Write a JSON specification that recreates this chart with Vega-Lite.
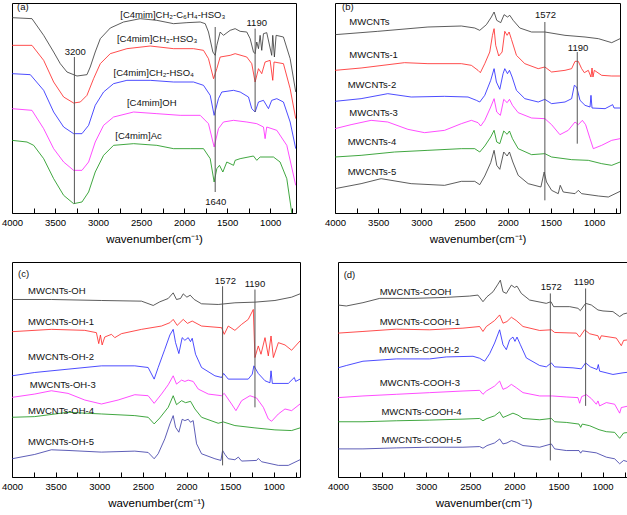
{
"$schema": "https://vega.github.io/schema/vega-lite/v6.json",
"padding": {"left": 0, "top": 1, "right": 0, "bottom": 0},
"config": {
  "view": {"stroke": "#000", "strokeWidth": 1},
  "font": "Liberation Sans",
  "axisX": {"domain": false, "grid": false, "tickColor": "#000", "tickWidth": 1, "tickSize": -5, "labelFontSize": 9.5, "labelColor": "#000", "labelPadding": 9, "titleFontSize": 11.5, "titleFontWeight": "normal", "titleColor": "#000", "titlePadding": 7},
  "text": {"font": "Liberation Sans", "fontSize": 9.5, "color": "#111"}
},
"resolve": {"scale": {"color": "independent"}},
"datasets": {
  "a": [
    {"s":"[C4mim]CH2-C6H4-HSO3","x":4000,"y":586},{"s":"[C4mim]CH2-C6H4-HSO3","x":3768,"y":583},{"s":"[C4mim]CH2-C6H4-HSO3","x":3632,"y":533},{"s":"[C4mim]CH2-C6H4-HSO3","x":3516,"y":483},{"s":"[C4mim]CH2-C6H4-HSO3","x":3439,"y":448},{"s":"[C4mim]CH2-C6H4-HSO3","x":3361,"y":423},{"s":"[C4mim]CH2-C6H4-HSO3","x":3245,"y":411},{"s":"[C4mim]CH2-C6H4-HSO3","x":3129,"y":415},{"s":"[C4mim]CH2-C6H4-HSO3","x":3091,"y":438},{"s":"[C4mim]CH2-C6H4-HSO3","x":3033,"y":483},{"s":"[C4mim]CH2-C6H4-HSO3","x":2974,"y":523},{"s":"[C4mim]CH2-C6H4-HSO3","x":2858,"y":555},{"s":"[C4mim]CH2-C6H4-HSO3","x":2704,"y":573},{"s":"[C4mim]CH2-C6H4-HSO3","x":2510,"y":583},{"s":"[C4mim]CH2-C6H4-HSO3","x":2317,"y":578},{"s":"[C4mim]CH2-C6H4-HSO3","x":2123,"y":568},{"s":"[C4mim]CH2-C6H4-HSO3","x":1968,"y":571},{"s":"[C4mim]CH2-C6H4-HSO3","x":1813,"y":573},{"s":"[C4mim]CH2-C6H4-HSO3","x":1755,"y":568},{"s":"[C4mim]CH2-C6H4-HSO3","x":1717,"y":543},{"s":"[C4mim]CH2-C6H4-HSO3","x":1666,"y":483},{"s":"[C4mim]CH2-C6H4-HSO3","x":1639,"y":473},{"s":"[C4mim]CH2-C6H4-HSO3","x":1620,"y":503},{"s":"[C4mim]CH2-C6H4-HSO3","x":1581,"y":543},{"s":"[C4mim]CH2-C6H4-HSO3","x":1543,"y":533},{"s":"[C4mim]CH2-C6H4-HSO3","x":1465,"y":548},{"s":"[C4mim]CH2-C6H4-HSO3","x":1407,"y":553},{"s":"[C4mim]CH2-C6H4-HSO3","x":1349,"y":545},{"s":"[C4mim]CH2-C6H4-HSO3","x":1272,"y":543},{"s":"[C4mim]CH2-C6H4-HSO3","x":1233,"y":523},{"s":"[C4mim]CH2-C6H4-HSO3","x":1194,"y":483},{"s":"[C4mim]CH2-C6H4-HSO3","x":1175,"y":478},{"s":"[C4mim]CH2-C6H4-HSO3","x":1156,"y":513},{"s":"[C4mim]CH2-C6H4-HSO3","x":1136,"y":493},{"s":"[C4mim]CH2-C6H4-HSO3","x":1117,"y":533},{"s":"[C4mim]CH2-C6H4-HSO3","x":1098,"y":488},{"s":"[C4mim]CH2-C6H4-HSO3","x":1078,"y":538},{"s":"[C4mim]CH2-C6H4-HSO3","x":1040,"y":541},{"s":"[C4mim]CH2-C6H4-HSO3","x":982,"y":473},{"s":"[C4mim]CH2-C6H4-HSO3","x":970,"y":533},{"s":"[C4mim]CH2-C6H4-HSO3","x":951,"y":468},{"s":"[C4mim]CH2-C6H4-HSO3","x":931,"y":533},{"s":"[C4mim]CH2-C6H4-HSO3","x":846,"y":528},{"s":"[C4mim]CH2-C6H4-HSO3","x":768,"y":463},{"s":"[C4mim]CH2-C6H4-HSO3","x":703,"y":363},
    {"s":"[C4mim]CH2-HSO3","x":4000,"y":503},{"s":"[C4mim]CH2-HSO3","x":3768,"y":503},{"s":"[C4mim]CH2-HSO3","x":3632,"y":458},{"s":"[C4mim]CH2-HSO3","x":3516,"y":393},{"s":"[C4mim]CH2-HSO3","x":3400,"y":348},{"s":"[C4mim]CH2-HSO3","x":3284,"y":330},{"s":"[C4mim]CH2-HSO3","x":3206,"y":333},{"s":"[C4mim]CH2-HSO3","x":3129,"y":353},{"s":"[C4mim]CH2-HSO3","x":3052,"y":403},{"s":"[C4mim]CH2-HSO3","x":2974,"y":448},{"s":"[C4mim]CH2-HSO3","x":2858,"y":478},{"s":"[C4mim]CH2-HSO3","x":2665,"y":493},{"s":"[C4mim]CH2-HSO3","x":2394,"y":501},{"s":"[C4mim]CH2-HSO3","x":2123,"y":493},{"s":"[C4mim]CH2-HSO3","x":1891,"y":493},{"s":"[C4mim]CH2-HSO3","x":1775,"y":488},{"s":"[C4mim]CH2-HSO3","x":1717,"y":463},{"s":"[C4mim]CH2-HSO3","x":1658,"y":403},{"s":"[C4mim]CH2-HSO3","x":1620,"y":433},{"s":"[C4mim]CH2-HSO3","x":1581,"y":468},{"s":"[C4mim]CH2-HSO3","x":1465,"y":473},{"s":"[C4mim]CH2-HSO3","x":1407,"y":478},{"s":"[C4mim]CH2-HSO3","x":1272,"y":468},{"s":"[C4mim]CH2-HSO3","x":1214,"y":448},{"s":"[C4mim]CH2-HSO3","x":1175,"y":393},{"s":"[C4mim]CH2-HSO3","x":1136,"y":433},{"s":"[C4mim]CH2-HSO3","x":1098,"y":418},{"s":"[C4mim]CH2-HSO3","x":1059,"y":453},{"s":"[C4mim]CH2-HSO3","x":1001,"y":458},{"s":"[C4mim]CH2-HSO3","x":970,"y":398},{"s":"[C4mim]CH2-HSO3","x":955,"y":453},{"s":"[C4mim]CH2-HSO3","x":846,"y":448},{"s":"[C4mim]CH2-HSO3","x":768,"y":373},{"s":"[C4mim]CH2-HSO3","x":703,"y":283},
    {"s":"[C4mim]CH2-HSO4","x":4000,"y":418},{"s":"[C4mim]CH2-HSO4","x":3787,"y":415},{"s":"[C4mim]CH2-HSO4","x":3632,"y":368},{"s":"[C4mim]CH2-HSO4","x":3516,"y":303},{"s":"[C4mim]CH2-HSO4","x":3400,"y":258},{"s":"[C4mim]CH2-HSO4","x":3284,"y":238},{"s":"[C4mim]CH2-HSO4","x":3187,"y":238},{"s":"[C4mim]CH2-HSO4","x":3110,"y":263},{"s":"[C4mim]CH2-HSO4","x":3033,"y":323},{"s":"[C4mim]CH2-HSO4","x":2936,"y":363},{"s":"[C4mim]CH2-HSO4","x":2820,"y":388},{"s":"[C4mim]CH2-HSO4","x":2665,"y":398},{"s":"[C4mim]CH2-HSO4","x":2394,"y":398},{"s":"[C4mim]CH2-HSO4","x":2123,"y":393},{"s":"[C4mim]CH2-HSO4","x":1891,"y":393},{"s":"[C4mim]CH2-HSO4","x":1775,"y":383},{"s":"[C4mim]CH2-HSO4","x":1697,"y":353},{"s":"[C4mim]CH2-HSO4","x":1651,"y":293},{"s":"[C4mim]CH2-HSO4","x":1601,"y":343},{"s":"[C4mim]CH2-HSO4","x":1562,"y":363},{"s":"[C4mim]CH2-HSO4","x":1426,"y":368},{"s":"[C4mim]CH2-HSO4","x":1349,"y":363},{"s":"[C4mim]CH2-HSO4","x":1252,"y":348},{"s":"[C4mim]CH2-HSO4","x":1214,"y":313},{"s":"[C4mim]CH2-HSO4","x":1175,"y":303},{"s":"[C4mim]CH2-HSO4","x":1136,"y":333},{"s":"[C4mim]CH2-HSO4","x":1078,"y":338},{"s":"[C4mim]CH2-HSO4","x":1020,"y":313},{"s":"[C4mim]CH2-HSO4","x":982,"y":338},{"s":"[C4mim]CH2-HSO4","x":923,"y":343},{"s":"[C4mim]CH2-HSO4","x":846,"y":333},{"s":"[C4mim]CH2-HSO4","x":768,"y":273},{"s":"[C4mim]CH2-HSO4","x":703,"y":193},
    {"s":"[C4mim]OH","x":4000,"y":313},{"s":"[C4mim]OH","x":3768,"y":308},{"s":"[C4mim]OH","x":3632,"y":253},{"s":"[C4mim]OH","x":3516,"y":193},{"s":"[C4mim]OH","x":3400,"y":153},{"s":"[C4mim]OH","x":3284,"y":128},{"s":"[C4mim]OH","x":3187,"y":128},{"s":"[C4mim]OH","x":3110,"y":153},{"s":"[C4mim]OH","x":3033,"y":213},{"s":"[C4mim]OH","x":2936,"y":263},{"s":"[C4mim]OH","x":2820,"y":288},{"s":"[C4mim]OH","x":2587,"y":303},{"s":"[C4mim]OH","x":2317,"y":298},{"s":"[C4mim]OH","x":2046,"y":293},{"s":"[C4mim]OH","x":1813,"y":293},{"s":"[C4mim]OH","x":1717,"y":268},{"s":"[C4mim]OH","x":1651,"y":198},{"s":"[C4mim]OH","x":1601,"y":253},{"s":"[C4mim]OH","x":1543,"y":273},{"s":"[C4mim]OH","x":1426,"y":278},{"s":"[C4mim]OH","x":1272,"y":273},{"s":"[C4mim]OH","x":1156,"y":268},{"s":"[C4mim]OH","x":1078,"y":258},{"s":"[C4mim]OH","x":1059,"y":223},{"s":"[C4mim]OH","x":1040,"y":258},{"s":"[C4mim]OH","x":923,"y":248},{"s":"[C4mim]OH","x":807,"y":203},{"s":"[C4mim]OH","x":703,"y":83},
    {"s":"[C4mim]Ac","x":4000,"y":218},{"s":"[C4mim]Ac","x":3826,"y":213},{"s":"[C4mim]Ac","x":3748,"y":203},{"s":"[C4mim]Ac","x":3632,"y":163},{"s":"[C4mim]Ac","x":3516,"y":103},{"s":"[C4mim]Ac","x":3400,"y":53},{"s":"[C4mim]Ac","x":3284,"y":28},{"s":"[C4mim]Ac","x":3187,"y":33},{"s":"[C4mim]Ac","x":3110,"y":63},{"s":"[C4mim]Ac","x":3033,"y":123},{"s":"[C4mim]Ac","x":2936,"y":173},{"s":"[C4mim]Ac","x":2820,"y":203},{"s":"[C4mim]Ac","x":2587,"y":208},{"s":"[C4mim]Ac","x":2317,"y":203},{"s":"[C4mim]Ac","x":2123,"y":193},{"s":"[C4mim]Ac","x":1930,"y":193},{"s":"[C4mim]Ac","x":1775,"y":193},{"s":"[C4mim]Ac","x":1697,"y":163},{"s":"[C4mim]Ac","x":1651,"y":93},{"s":"[C4mim]Ac","x":1620,"y":133},{"s":"[C4mim]Ac","x":1589,"y":143},{"s":"[C4mim]Ac","x":1550,"y":123},{"s":"[C4mim]Ac","x":1504,"y":153},{"s":"[C4mim]Ac","x":1426,"y":143},{"s":"[C4mim]Ac","x":1407,"y":158},{"s":"[C4mim]Ac","x":1349,"y":163},{"s":"[C4mim]Ac","x":1194,"y":171},{"s":"[C4mim]Ac","x":1156,"y":158},{"s":"[C4mim]Ac","x":1117,"y":168},{"s":"[C4mim]Ac","x":962,"y":168},{"s":"[C4mim]Ac","x":885,"y":153},{"s":"[C4mim]Ac","x":807,"y":103},{"s":"[C4mim]Ac","x":749,"y":0}
  ],
  "b": [
    {"s":"MWCNTs","x":4000,"y":535},{"s":"MWCNTs","x":3505,"y":545},{"s":"MWCNTs","x":2924,"y":558},{"s":"MWCNTs","x":2537,"y":561},{"s":"MWCNTs","x":2382,"y":555},{"s":"MWCNTs","x":2324,"y":548},{"s":"MWCNTs","x":2247,"y":565},{"s":"MWCNTs","x":2189,"y":588},{"s":"MWCNTs","x":2158,"y":603},{"s":"MWCNTs","x":2127,"y":578},{"s":"MWCNTs","x":2081,"y":571},{"s":"MWCNTs","x":2042,"y":595},{"s":"MWCNTs","x":2003,"y":588},{"s":"MWCNTs","x":1976,"y":593},{"s":"MWCNTs","x":1937,"y":578},{"s":"MWCNTs","x":1860,"y":555},{"s":"MWCNTs","x":1724,"y":543},{"s":"MWCNTs","x":1570,"y":543},{"s":"MWCNTs","x":1337,"y":533},{"s":"MWCNTs","x":1105,"y":528},{"s":"MWCNTs","x":950,"y":523},{"s":"MWCNTs","x":796,"y":511},{"s":"MWCNTs","x":699,"y":523},
    {"s":"MWCNTs-1","x":4000,"y":428},{"s":"MWCNTs-1","x":3698,"y":435},{"s":"MWCNTs-1","x":3195,"y":451},{"s":"MWCNTs-1","x":2924,"y":448},{"s":"MWCNTs-1","x":2537,"y":448},{"s":"MWCNTs-1","x":2421,"y":443},{"s":"MWCNTs-1","x":2344,"y":428},{"s":"MWCNTs-1","x":2317,"y":421},{"s":"MWCNTs-1","x":2266,"y":448},{"s":"MWCNTs-1","x":2208,"y":483},{"s":"MWCNTs-1","x":2177,"y":533},{"s":"MWCNTs-1","x":2158,"y":553},{"s":"MWCNTs-1","x":2139,"y":503},{"s":"MWCNTs-1","x":2104,"y":471},{"s":"MWCNTs-1","x":2065,"y":483},{"s":"MWCNTs-1","x":2034,"y":545},{"s":"MWCNTs-1","x":2007,"y":533},{"s":"MWCNTs-1","x":1984,"y":543},{"s":"MWCNTs-1","x":1957,"y":521},{"s":"MWCNTs-1","x":1899,"y":473},{"s":"MWCNTs-1","x":1802,"y":448},{"s":"MWCNTs-1","x":1647,"y":433},{"s":"MWCNTs-1","x":1570,"y":438},{"s":"MWCNTs-1","x":1492,"y":423},{"s":"MWCNTs-1","x":1337,"y":428},{"s":"MWCNTs-1","x":1260,"y":433},{"s":"MWCNTs-1","x":1221,"y":455},{"s":"MWCNTs-1","x":1183,"y":455},{"s":"MWCNTs-1","x":1144,"y":433},{"s":"MWCNTs-1","x":1113,"y":421},{"s":"MWCNTs-1","x":1067,"y":428},{"s":"MWCNTs-1","x":1036,"y":408},{"s":"MWCNTs-1","x":1024,"y":435},{"s":"MWCNTs-1","x":1013,"y":408},{"s":"MWCNTs-1","x":997,"y":428},{"s":"MWCNTs-1","x":912,"y":413},{"s":"MWCNTs-1","x":796,"y":411},{"s":"MWCNTs-1","x":699,"y":411},
    {"s":"MWCNTs-2","x":4000,"y":335},{"s":"MWCNTs-2","x":3698,"y":343},{"s":"MWCNTs-2","x":3389,"y":358},{"s":"MWCNTs-2","x":3118,"y":348},{"s":"MWCNTs-2","x":2731,"y":350},{"s":"MWCNTs-2","x":2460,"y":348},{"s":"MWCNTs-2","x":2363,"y":338},{"s":"MWCNTs-2","x":2324,"y":333},{"s":"MWCNTs-2","x":2266,"y":353},{"s":"MWCNTs-2","x":2197,"y":398},{"s":"MWCNTs-2","x":2158,"y":433},{"s":"MWCNTs-2","x":2131,"y":393},{"s":"MWCNTs-2","x":2092,"y":371},{"s":"MWCNTs-2","x":2054,"y":418},{"s":"MWCNTs-2","x":2034,"y":433},{"s":"MWCNTs-2","x":2003,"y":418},{"s":"MWCNTs-2","x":1980,"y":428},{"s":"MWCNTs-2","x":1949,"y":408},{"s":"MWCNTs-2","x":1899,"y":368},{"s":"MWCNTs-2","x":1802,"y":343},{"s":"MWCNTs-2","x":1647,"y":333},{"s":"MWCNTs-2","x":1570,"y":341},{"s":"MWCNTs-2","x":1492,"y":328},{"s":"MWCNTs-2","x":1337,"y":333},{"s":"MWCNTs-2","x":1260,"y":343},{"s":"MWCNTs-2","x":1229,"y":383},{"s":"MWCNTs-2","x":1202,"y":378},{"s":"MWCNTs-2","x":1163,"y":338},{"s":"MWCNTs-2","x":1105,"y":323},{"s":"MWCNTs-2","x":1047,"y":318},{"s":"MWCNTs-2","x":1036,"y":353},{"s":"MWCNTs-2","x":1024,"y":315},{"s":"MWCNTs-2","x":873,"y":313},{"s":"MWCNTs-2","x":785,"y":325},{"s":"MWCNTs-2","x":769,"y":315},{"s":"MWCNTs-2","x":699,"y":315},
    {"s":"MWCNTs-3","x":4000,"y":253},{"s":"MWCNTs-3","x":3814,"y":265},{"s":"MWCNTs-3","x":3582,"y":278},{"s":"MWCNTs-3","x":3389,"y":273},{"s":"MWCNTs-3","x":3156,"y":251},{"s":"MWCNTs-3","x":2963,"y":241},{"s":"MWCNTs-3","x":2731,"y":248},{"s":"MWCNTs-3","x":2537,"y":268},{"s":"MWCNTs-3","x":2421,"y":278},{"s":"MWCNTs-3","x":2344,"y":271},{"s":"MWCNTs-3","x":2313,"y":261},{"s":"MWCNTs-3","x":2266,"y":278},{"s":"MWCNTs-3","x":2197,"y":318},{"s":"MWCNTs-3","x":2158,"y":343},{"s":"MWCNTs-3","x":2127,"y":303},{"s":"MWCNTs-3","x":2085,"y":293},{"s":"MWCNTs-3","x":2046,"y":341},{"s":"MWCNTs-3","x":2007,"y":331},{"s":"MWCNTs-3","x":1980,"y":341},{"s":"MWCNTs-3","x":1945,"y":323},{"s":"MWCNTs-3","x":1879,"y":301},{"s":"MWCNTs-3","x":1724,"y":285},{"s":"MWCNTs-3","x":1570,"y":283},{"s":"MWCNTs-3","x":1492,"y":265},{"s":"MWCNTs-3","x":1396,"y":235},{"s":"MWCNTs-3","x":1299,"y":248},{"s":"MWCNTs-3","x":1221,"y":273},{"s":"MWCNTs-3","x":1183,"y":265},{"s":"MWCNTs-3","x":1136,"y":278},{"s":"MWCNTs-3","x":1098,"y":265},{"s":"MWCNTs-3","x":1047,"y":223},{"s":"MWCNTs-3","x":1009,"y":193},{"s":"MWCNTs-3","x":912,"y":203},{"s":"MWCNTs-3","x":796,"y":218},{"s":"MWCNTs-3","x":699,"y":223},
    {"s":"MWCNTs-4","x":4000,"y":168},{"s":"MWCNTs-4","x":3698,"y":173},{"s":"MWCNTs-4","x":3311,"y":183},{"s":"MWCNTs-4","x":2924,"y":188},{"s":"MWCNTs-4","x":2537,"y":193},{"s":"MWCNTs-4","x":2382,"y":193},{"s":"MWCNTs-4","x":2324,"y":183},{"s":"MWCNTs-4","x":2266,"y":201},{"s":"MWCNTs-4","x":2197,"y":228},{"s":"MWCNTs-4","x":2158,"y":248},{"s":"MWCNTs-4","x":2127,"y":213},{"s":"MWCNTs-4","x":2092,"y":208},{"s":"MWCNTs-4","x":2046,"y":246},{"s":"MWCNTs-4","x":2007,"y":236},{"s":"MWCNTs-4","x":1980,"y":246},{"s":"MWCNTs-4","x":1945,"y":223},{"s":"MWCNTs-4","x":1879,"y":193},{"s":"MWCNTs-4","x":1724,"y":175},{"s":"MWCNTs-4","x":1570,"y":178},{"s":"MWCNTs-4","x":1492,"y":168},{"s":"MWCNTs-4","x":1260,"y":160},{"s":"MWCNTs-4","x":1067,"y":158},{"s":"MWCNTs-4","x":912,"y":148},{"s":"MWCNTs-4","x":796,"y":143},{"s":"MWCNTs-4","x":699,"y":153},
    {"s":"MWCNTs-5","x":4000,"y":73},{"s":"MWCNTs-5","x":3698,"y":88},{"s":"MWCNTs-5","x":3466,"y":103},{"s":"MWCNTs-5","x":3118,"y":88},{"s":"MWCNTs-5","x":2731,"y":83},{"s":"MWCNTs-5","x":2537,"y":95},{"s":"MWCNTs-5","x":2382,"y":95},{"s":"MWCNTs-5","x":2324,"y":85},{"s":"MWCNTs-5","x":2266,"y":111},{"s":"MWCNTs-5","x":2197,"y":151},{"s":"MWCNTs-5","x":2158,"y":188},{"s":"MWCNTs-5","x":2127,"y":143},{"s":"MWCNTs-5","x":2092,"y":131},{"s":"MWCNTs-5","x":2046,"y":183},{"s":"MWCNTs-5","x":2007,"y":171},{"s":"MWCNTs-5","x":1980,"y":183},{"s":"MWCNTs-5","x":1941,"y":153},{"s":"MWCNTs-5","x":1879,"y":113},{"s":"MWCNTs-5","x":1763,"y":88},{"s":"MWCNTs-5","x":1616,"y":78},{"s":"MWCNTs-5","x":1578,"y":123},{"s":"MWCNTs-5","x":1551,"y":93},{"s":"MWCNTs-5","x":1492,"y":68},{"s":"MWCNTs-5","x":1415,"y":58},{"s":"MWCNTs-5","x":1392,"y":83},{"s":"MWCNTs-5","x":1357,"y":63},{"s":"MWCNTs-5","x":1221,"y":58},{"s":"MWCNTs-5","x":1183,"y":68},{"s":"MWCNTs-5","x":1144,"y":58},{"s":"MWCNTs-5","x":950,"y":51},{"s":"MWCNTs-5","x":835,"y":48},{"s":"MWCNTs-5","x":699,"y":65}
  ],
  "c": [
    {"s":"MWCNTs-OH","x":4000,"y":535},{"s":"MWCNTs-OH","x":3549,"y":535},{"s":"MWCNTs-OH","x":2975,"y":532},{"s":"MWCNTs-OH","x":2516,"y":530},{"s":"MWCNTs-OH","x":2382,"y":517},{"s":"MWCNTs-OH","x":2306,"y":528},{"s":"MWCNTs-OH","x":2210,"y":538},{"s":"MWCNTs-OH","x":2153,"y":555},{"s":"MWCNTs-OH","x":2115,"y":535},{"s":"MWCNTs-OH","x":2069,"y":538},{"s":"MWCNTs-OH","x":2038,"y":552},{"s":"MWCNTs-OH","x":1996,"y":542},{"s":"MWCNTs-OH","x":1958,"y":548},{"s":"MWCNTs-OH","x":1912,"y":535},{"s":"MWCNTs-OH","x":1828,"y":522},{"s":"MWCNTs-OH","x":1637,"y":520},{"s":"MWCNTs-OH","x":1446,"y":525},{"s":"MWCNTs-OH","x":1216,"y":527},{"s":"MWCNTs-OH","x":987,"y":532},{"s":"MWCNTs-OH","x":796,"y":542},{"s":"MWCNTs-OH","x":700,"y":552},
    {"s":"MWCNTs-OH-1","x":4000,"y":438},{"s":"MWCNTs-OH-1","x":3549,"y":445},{"s":"MWCNTs-OH-1","x":3166,"y":442},{"s":"MWCNTs-OH-1","x":3033,"y":435},{"s":"MWCNTs-OH-1","x":3006,"y":402},{"s":"MWCNTs-OH-1","x":2987,"y":428},{"s":"MWCNTs-OH-1","x":2967,"y":398},{"s":"MWCNTs-OH-1","x":2937,"y":422},{"s":"MWCNTs-OH-1","x":2860,"y":430},{"s":"MWCNTs-OH-1","x":2822,"y":420},{"s":"MWCNTs-OH-1","x":2746,"y":432},{"s":"MWCNTs-OH-1","x":2516,"y":445},{"s":"MWCNTs-OH-1","x":2287,"y":455},{"s":"MWCNTs-OH-1","x":2191,"y":465},{"s":"MWCNTs-OH-1","x":2153,"y":475},{"s":"MWCNTs-OH-1","x":2107,"y":457},{"s":"MWCNTs-OH-1","x":2038,"y":475},{"s":"MWCNTs-OH-1","x":1989,"y":463},{"s":"MWCNTs-OH-1","x":1935,"y":470},{"s":"MWCNTs-OH-1","x":1828,"y":455},{"s":"MWCNTs-OH-1","x":1598,"y":450},{"s":"MWCNTs-OH-1","x":1568,"y":430},{"s":"MWCNTs-OH-1","x":1522,"y":455},{"s":"MWCNTs-OH-1","x":1446,"y":442},{"s":"MWCNTs-OH-1","x":1369,"y":460},{"s":"MWCNTs-OH-1","x":1293,"y":475},{"s":"MWCNTs-OH-1","x":1235,"y":505},{"s":"MWCNTs-OH-1","x":1216,"y":360},{"s":"MWCNTs-OH-1","x":1178,"y":395},{"s":"MWCNTs-OH-1","x":1147,"y":370},{"s":"MWCNTs-OH-1","x":1101,"y":420},{"s":"MWCNTs-OH-1","x":1063,"y":365},{"s":"MWCNTs-OH-1","x":1032,"y":425},{"s":"MWCNTs-OH-1","x":1005,"y":360},{"s":"MWCNTs-OH-1","x":948,"y":405},{"s":"MWCNTs-OH-1","x":872,"y":398},{"s":"MWCNTs-OH-1","x":796,"y":382},{"s":"MWCNTs-OH-1","x":700,"y":410},
    {"s":"MWCNTs-OH-2","x":4000,"y":305},{"s":"MWCNTs-OH-2","x":3740,"y":315},{"s":"MWCNTs-OH-2","x":3358,"y":325},{"s":"MWCNTs-OH-2","x":2975,"y":335},{"s":"MWCNTs-OH-2","x":2593,"y":335},{"s":"MWCNTs-OH-2","x":2440,"y":330},{"s":"MWCNTs-OH-2","x":2371,"y":295},{"s":"MWCNTs-OH-2","x":2325,"y":330},{"s":"MWCNTs-OH-2","x":2249,"y":385},{"s":"MWCNTs-OH-2","x":2191,"y":428},{"s":"MWCNTs-OH-2","x":2153,"y":445},{"s":"MWCNTs-OH-2","x":2126,"y":405},{"s":"MWCNTs-OH-2","x":2088,"y":372},{"s":"MWCNTs-OH-2","x":2050,"y":420},{"s":"MWCNTs-OH-2","x":2019,"y":412},{"s":"MWCNTs-OH-2","x":1981,"y":420},{"s":"MWCNTs-OH-2","x":1955,"y":408},{"s":"MWCNTs-OH-2","x":1935,"y":418},{"s":"MWCNTs-OH-2","x":1897,"y":370},{"s":"MWCNTs-OH-2","x":1828,"y":330},{"s":"MWCNTs-OH-2","x":1675,"y":305},{"s":"MWCNTs-OH-2","x":1598,"y":300},{"s":"MWCNTs-OH-2","x":1575,"y":312},{"s":"MWCNTs-OH-2","x":1522,"y":295},{"s":"MWCNTs-OH-2","x":1293,"y":295},{"s":"MWCNTs-OH-2","x":1247,"y":310},{"s":"MWCNTs-OH-2","x":1228,"y":335},{"s":"MWCNTs-OH-2","x":1178,"y":312},{"s":"MWCNTs-OH-2","x":1101,"y":290},{"s":"MWCNTs-OH-2","x":1044,"y":284},{"s":"MWCNTs-OH-2","x":1032,"y":320},{"s":"MWCNTs-OH-2","x":1017,"y":282},{"s":"MWCNTs-OH-2","x":834,"y":282},{"s":"MWCNTs-OH-2","x":765,"y":300},{"s":"MWCNTs-OH-2","x":750,"y":288},{"s":"MWCNTs-OH-2","x":700,"y":295},
    {"s":"MWCNTs-OH-3","x":4000,"y":240},{"s":"MWCNTs-OH-3","x":3740,"y":250},{"s":"MWCNTs-OH-3","x":3549,"y":260},{"s":"MWCNTs-OH-3","x":3358,"y":252},{"s":"MWCNTs-OH-3","x":3166,"y":232},{"s":"MWCNTs-OH-3","x":2975,"y":220},{"s":"MWCNTs-OH-3","x":2784,"y":232},{"s":"MWCNTs-OH-3","x":2593,"y":248},{"s":"MWCNTs-OH-3","x":2440,"y":245},{"s":"MWCNTs-OH-3","x":2371,"y":222},{"s":"MWCNTs-OH-3","x":2287,"y":250},{"s":"MWCNTs-OH-3","x":2210,"y":278},{"s":"MWCNTs-OH-3","x":2153,"y":305},{"s":"MWCNTs-OH-3","x":2115,"y":280},{"s":"MWCNTs-OH-3","x":2057,"y":292},{"s":"MWCNTs-OH-3","x":2019,"y":288},{"s":"MWCNTs-OH-3","x":1981,"y":292},{"s":"MWCNTs-OH-3","x":1924,"y":288},{"s":"MWCNTs-OH-3","x":1866,"y":265},{"s":"MWCNTs-OH-3","x":1751,"y":250},{"s":"MWCNTs-OH-3","x":1598,"y":245},{"s":"MWCNTs-OH-3","x":1568,"y":252},{"s":"MWCNTs-OH-3","x":1484,"y":220},{"s":"MWCNTs-OH-3","x":1434,"y":200},{"s":"MWCNTs-OH-3","x":1369,"y":230},{"s":"MWCNTs-OH-3","x":1273,"y":245},{"s":"MWCNTs-OH-3","x":1197,"y":238},{"s":"MWCNTs-OH-3","x":1120,"y":210},{"s":"MWCNTs-OH-3","x":1063,"y":175},{"s":"MWCNTs-OH-3","x":1025,"y":168},{"s":"MWCNTs-OH-3","x":948,"y":190},{"s":"MWCNTs-OH-3","x":872,"y":205},{"s":"MWCNTs-OH-3","x":796,"y":200},{"s":"MWCNTs-OH-3","x":700,"y":220},
    {"s":"MWCNTs-OH-4","x":4000,"y":180},{"s":"MWCNTs-OH-4","x":3740,"y":182},{"s":"MWCNTs-OH-4","x":3358,"y":195},{"s":"MWCNTs-OH-4","x":2975,"y":190},{"s":"MWCNTs-OH-4","x":2593,"y":185},{"s":"MWCNTs-OH-4","x":2440,"y":180},{"s":"MWCNTs-OH-4","x":2371,"y":160},{"s":"MWCNTs-OH-4","x":2306,"y":178},{"s":"MWCNTs-OH-4","x":2210,"y":210},{"s":"MWCNTs-OH-4","x":2153,"y":245},{"s":"MWCNTs-OH-4","x":2115,"y":218},{"s":"MWCNTs-OH-4","x":2057,"y":230},{"s":"MWCNTs-OH-4","x":2011,"y":224},{"s":"MWCNTs-OH-4","x":1954,"y":228},{"s":"MWCNTs-OH-4","x":1904,"y":205},{"s":"MWCNTs-OH-4","x":1828,"y":180},{"s":"MWCNTs-OH-4","x":1637,"y":162},{"s":"MWCNTs-OH-4","x":1579,"y":166},{"s":"MWCNTs-OH-4","x":1446,"y":155},{"s":"MWCNTs-OH-4","x":1216,"y":148},{"s":"MWCNTs-OH-4","x":987,"y":142},{"s":"MWCNTs-OH-4","x":796,"y":140},{"s":"MWCNTs-OH-4","x":700,"y":148},
    {"s":"MWCNTs-OH-5","x":4000,"y":55},{"s":"MWCNTs-OH-5","x":3740,"y":68},{"s":"MWCNTs-OH-5","x":3549,"y":82},{"s":"MWCNTs-OH-5","x":3358,"y":80},{"s":"MWCNTs-OH-5","x":2975,"y":75},{"s":"MWCNTs-OH-5","x":2593,"y":78},{"s":"MWCNTs-OH-5","x":2440,"y":74},{"s":"MWCNTs-OH-5","x":2371,"y":55},{"s":"MWCNTs-OH-5","x":2325,"y":70},{"s":"MWCNTs-OH-5","x":2249,"y":115},{"s":"MWCNTs-OH-5","x":2191,"y":160},{"s":"MWCNTs-OH-5","x":2153,"y":185},{"s":"MWCNTs-OH-5","x":2126,"y":150},{"s":"MWCNTs-OH-5","x":2088,"y":135},{"s":"MWCNTs-OH-5","x":2050,"y":174},{"s":"MWCNTs-OH-5","x":2019,"y":170},{"s":"MWCNTs-OH-5","x":1981,"y":174},{"s":"MWCNTs-OH-5","x":1955,"y":165},{"s":"MWCNTs-OH-5","x":1924,"y":170},{"s":"MWCNTs-OH-5","x":1885,"y":100},{"s":"MWCNTs-OH-5","x":1828,"y":70},{"s":"MWCNTs-OH-5","x":1675,"y":55},{"s":"MWCNTs-OH-5","x":1606,"y":50},{"s":"MWCNTs-OH-5","x":1587,"y":80},{"s":"MWCNTs-OH-5","x":1560,"y":68},{"s":"MWCNTs-OH-5","x":1522,"y":55},{"s":"MWCNTs-OH-5","x":1446,"y":52},{"s":"MWCNTs-OH-5","x":1407,"y":60},{"s":"MWCNTs-OH-5","x":1369,"y":48},{"s":"MWCNTs-OH-5","x":1197,"y":50},{"s":"MWCNTs-OH-5","x":1178,"y":56},{"s":"MWCNTs-OH-5","x":1140,"y":46},{"s":"MWCNTs-OH-5","x":948,"y":35},{"s":"MWCNTs-OH-5","x":834,"y":35},{"s":"MWCNTs-OH-5","x":700,"y":52}
  ],
  "d": [
    {"s":"MWCNTs-COOH","x":4000,"y":520},{"s":"MWCNTs-COOH","x":3906,"y":517},{"s":"MWCNTs-COOH","x":3717,"y":527},{"s":"MWCNTs-COOH","x":3527,"y":540},{"s":"MWCNTs-COOH","x":3150,"y":540},{"s":"MWCNTs-COOH","x":2772,"y":543},{"s":"MWCNTs-COOH","x":2507,"y":547},{"s":"MWCNTs-COOH","x":2413,"y":550},{"s":"MWCNTs-COOH","x":2356,"y":530},{"s":"MWCNTs-COOH","x":2310,"y":545},{"s":"MWCNTs-COOH","x":2242,"y":560},{"s":"MWCNTs-COOH","x":2186,"y":583},{"s":"MWCNTs-COOH","x":2159,"y":595},{"s":"MWCNTs-COOH","x":2129,"y":560},{"s":"MWCNTs-COOH","x":2091,"y":555},{"s":"MWCNTs-COOH","x":2034,"y":580},{"s":"MWCNTs-COOH","x":1997,"y":573},{"s":"MWCNTs-COOH","x":1970,"y":577},{"s":"MWCNTs-COOH","x":1921,"y":555},{"s":"MWCNTs-COOH","x":1827,"y":535},{"s":"MWCNTs-COOH","x":1638,"y":525},{"s":"MWCNTs-COOH","x":1585,"y":530},{"s":"MWCNTs-COOH","x":1555,"y":515},{"s":"MWCNTs-COOH","x":1373,"y":515},{"s":"MWCNTs-COOH","x":1279,"y":510},{"s":"MWCNTs-COOH","x":1252,"y":503},{"s":"MWCNTs-COOH","x":1192,"y":525},{"s":"MWCNTs-COOH","x":1127,"y":520},{"s":"MWCNTs-COOH","x":1052,"y":505},{"s":"MWCNTs-COOH","x":995,"y":502},{"s":"MWCNTs-COOH","x":882,"y":500},{"s":"MWCNTs-COOH","x":806,"y":485},{"s":"MWCNTs-COOH","x":761,"y":493},{"s":"MWCNTs-COOH","x":700,"y":497},
    {"s":"MWCNTs-COOH-1","x":4000,"y":435},{"s":"MWCNTs-COOH-1","x":3717,"y":440},{"s":"MWCNTs-COOH-1","x":3339,"y":447},{"s":"MWCNTs-COOH-1","x":2961,"y":445},{"s":"MWCNTs-COOH-1","x":2583,"y":450},{"s":"MWCNTs-COOH-1","x":2394,"y":455},{"s":"MWCNTs-COOH-1","x":2356,"y":440},{"s":"MWCNTs-COOH-1","x":2318,"y":455},{"s":"MWCNTs-COOH-1","x":2224,"y":473},{"s":"MWCNTs-COOH-1","x":2167,"y":490},{"s":"MWCNTs-COOH-1","x":2129,"y":465},{"s":"MWCNTs-COOH-1","x":2084,"y":470},{"s":"MWCNTs-COOH-1","x":2034,"y":483},{"s":"MWCNTs-COOH-1","x":1978,"y":473},{"s":"MWCNTs-COOH-1","x":1902,"y":455},{"s":"MWCNTs-COOH-1","x":1713,"y":443},{"s":"MWCNTs-COOH-1","x":1581,"y":445},{"s":"MWCNTs-COOH-1","x":1543,"y":437},{"s":"MWCNTs-COOH-1","x":1297,"y":435},{"s":"MWCNTs-COOH-1","x":1260,"y":423},{"s":"MWCNTs-COOH-1","x":1203,"y":445},{"s":"MWCNTs-COOH-1","x":1146,"y":433},{"s":"MWCNTs-COOH-1","x":1052,"y":427},{"s":"MWCNTs-COOH-1","x":1033,"y":415},{"s":"MWCNTs-COOH-1","x":1014,"y":427},{"s":"MWCNTs-COOH-1","x":844,"y":420},{"s":"MWCNTs-COOH-1","x":787,"y":397},{"s":"MWCNTs-COOH-1","x":761,"y":413},{"s":"MWCNTs-COOH-1","x":700,"y":415},
    {"s":"MWCNTs-COOH-2","x":4000,"y":330},{"s":"MWCNTs-COOH-2","x":3906,"y":337},{"s":"MWCNTs-COOH-2","x":3717,"y":350},{"s":"MWCNTs-COOH-2","x":3339,"y":357},{"s":"MWCNTs-COOH-2","x":2961,"y":357},{"s":"MWCNTs-COOH-2","x":2772,"y":363},{"s":"MWCNTs-COOH-2","x":2469,"y":365},{"s":"MWCNTs-COOH-2","x":2394,"y":359},{"s":"MWCNTs-COOH-2","x":2337,"y":350},{"s":"MWCNTs-COOH-2","x":2280,"y":373},{"s":"MWCNTs-COOH-2","x":2224,"y":405},{"s":"MWCNTs-COOH-2","x":2167,"y":445},{"s":"MWCNTs-COOH-2","x":2129,"y":400},{"s":"MWCNTs-COOH-2","x":2091,"y":385},{"s":"MWCNTs-COOH-2","x":2053,"y":415},{"s":"MWCNTs-COOH-2","x":2016,"y":423},{"s":"MWCNTs-COOH-2","x":1993,"y":410},{"s":"MWCNTs-COOH-2","x":1970,"y":423},{"s":"MWCNTs-COOH-2","x":1932,"y":400},{"s":"MWCNTs-COOH-2","x":1864,"y":360},{"s":"MWCNTs-COOH-2","x":1713,"y":337},{"s":"MWCNTs-COOH-2","x":1638,"y":333},{"s":"MWCNTs-COOH-2","x":1581,"y":345},{"s":"MWCNTs-COOH-2","x":1543,"y":333},{"s":"MWCNTs-COOH-2","x":1335,"y":330},{"s":"MWCNTs-COOH-2","x":1241,"y":327},{"s":"MWCNTs-COOH-2","x":1192,"y":345},{"s":"MWCNTs-COOH-2","x":1138,"y":333},{"s":"MWCNTs-COOH-2","x":1063,"y":325},{"s":"MWCNTs-COOH-2","x":1048,"y":340},{"s":"MWCNTs-COOH-2","x":1033,"y":320},{"s":"MWCNTs-COOH-2","x":882,"y":310},{"s":"MWCNTs-COOH-2","x":768,"y":315},{"s":"MWCNTs-COOH-2","x":700,"y":317},
    {"s":"MWCNTs-COOH-3","x":4000,"y":240},{"s":"MWCNTs-COOH-3","x":3717,"y":245},{"s":"MWCNTs-COOH-3","x":3339,"y":250},{"s":"MWCNTs-COOH-3","x":2961,"y":255},{"s":"MWCNTs-COOH-3","x":2583,"y":260},{"s":"MWCNTs-COOH-3","x":2394,"y":262},{"s":"MWCNTs-COOH-3","x":2356,"y":250},{"s":"MWCNTs-COOH-3","x":2318,"y":260},{"s":"MWCNTs-COOH-3","x":2224,"y":275},{"s":"MWCNTs-COOH-3","x":2167,"y":290},{"s":"MWCNTs-COOH-3","x":2129,"y":265},{"s":"MWCNTs-COOH-3","x":2084,"y":270},{"s":"MWCNTs-COOH-3","x":2034,"y":280},{"s":"MWCNTs-COOH-3","x":1978,"y":270},{"s":"MWCNTs-COOH-3","x":1902,"y":255},{"s":"MWCNTs-COOH-3","x":1713,"y":245},{"s":"MWCNTs-COOH-3","x":1570,"y":245},{"s":"MWCNTs-COOH-3","x":1411,"y":242},{"s":"MWCNTs-COOH-3","x":1279,"y":240},{"s":"MWCNTs-COOH-3","x":1260,"y":223},{"s":"MWCNTs-COOH-3","x":1237,"y":243},{"s":"MWCNTs-COOH-3","x":1184,"y":249},{"s":"MWCNTs-COOH-3","x":1127,"y":237},{"s":"MWCNTs-COOH-3","x":1071,"y":220},{"s":"MWCNTs-COOH-3","x":1052,"y":230},{"s":"MWCNTs-COOH-3","x":1033,"y":215},{"s":"MWCNTs-COOH-3","x":957,"y":225},{"s":"MWCNTs-COOH-3","x":863,"y":220},{"s":"MWCNTs-COOH-3","x":806,"y":193},{"s":"MWCNTs-COOH-3","x":787,"y":210},{"s":"MWCNTs-COOH-3","x":700,"y":215},
    {"s":"MWCNTs-COOH-4","x":4000,"y":167},{"s":"MWCNTs-COOH-4","x":3717,"y":167},{"s":"MWCNTs-COOH-4","x":3339,"y":170},{"s":"MWCNTs-COOH-4","x":2961,"y":172},{"s":"MWCNTs-COOH-4","x":2583,"y":175},{"s":"MWCNTs-COOH-4","x":2394,"y":177},{"s":"MWCNTs-COOH-4","x":2356,"y":170},{"s":"MWCNTs-COOH-4","x":2310,"y":177},{"s":"MWCNTs-COOH-4","x":2224,"y":185},{"s":"MWCNTs-COOH-4","x":2167,"y":197},{"s":"MWCNTs-COOH-4","x":2129,"y":180},{"s":"MWCNTs-COOH-4","x":2084,"y":185},{"s":"MWCNTs-COOH-4","x":2016,"y":193},{"s":"MWCNTs-COOH-4","x":1959,"y":187},{"s":"MWCNTs-COOH-4","x":1902,"y":177},{"s":"MWCNTs-COOH-4","x":1713,"y":173},{"s":"MWCNTs-COOH-4","x":1581,"y":177},{"s":"MWCNTs-COOH-4","x":1543,"y":167},{"s":"MWCNTs-COOH-4","x":1411,"y":165},{"s":"MWCNTs-COOH-4","x":1267,"y":160},{"s":"MWCNTs-COOH-4","x":1248,"y":150},{"s":"MWCNTs-COOH-4","x":1230,"y":160},{"s":"MWCNTs-COOH-4","x":1146,"y":155},{"s":"MWCNTs-COOH-4","x":1040,"y":143},{"s":"MWCNTs-COOH-4","x":957,"y":137},{"s":"MWCNTs-COOH-4","x":863,"y":135},{"s":"MWCNTs-COOH-4","x":806,"y":117},{"s":"MWCNTs-COOH-4","x":761,"y":133},{"s":"MWCNTs-COOH-4","x":700,"y":135},
    {"s":"MWCNTs-COOH-5","x":4000,"y":85},{"s":"MWCNTs-COOH-5","x":3717,"y":85},{"s":"MWCNTs-COOH-5","x":3339,"y":88},{"s":"MWCNTs-COOH-5","x":2961,"y":90},{"s":"MWCNTs-COOH-5","x":2583,"y":90},{"s":"MWCNTs-COOH-5","x":2394,"y":92},{"s":"MWCNTs-COOH-5","x":2356,"y":87},{"s":"MWCNTs-COOH-5","x":2310,"y":95},{"s":"MWCNTs-COOH-5","x":2224,"y":103},{"s":"MWCNTs-COOH-5","x":2167,"y":115},{"s":"MWCNTs-COOH-5","x":2129,"y":100},{"s":"MWCNTs-COOH-5","x":2084,"y":103},{"s":"MWCNTs-COOH-5","x":2034,"y":110},{"s":"MWCNTs-COOH-5","x":1978,"y":105},{"s":"MWCNTs-COOH-5","x":1902,"y":95},{"s":"MWCNTs-COOH-5","x":1713,"y":90},{"s":"MWCNTs-COOH-5","x":1581,"y":100},{"s":"MWCNTs-COOH-5","x":1543,"y":85},{"s":"MWCNTs-COOH-5","x":1411,"y":80},{"s":"MWCNTs-COOH-5","x":1267,"y":80},{"s":"MWCNTs-COOH-5","x":1248,"y":72},{"s":"MWCNTs-COOH-5","x":1230,"y":79},{"s":"MWCNTs-COOH-5","x":1071,"y":73},{"s":"MWCNTs-COOH-5","x":957,"y":60},{"s":"MWCNTs-COOH-5","x":863,"y":55},{"s":"MWCNTs-COOH-5","x":806,"y":40},{"s":"MWCNTs-COOH-5","x":761,"y":50},{"s":"MWCNTs-COOH-5","x":700,"y":45}
  ],
  "rules": [
    {"p":"a","x":3275,"y1":28,"y2":468},
    {"p":"a","x":1639,"y1":63,"y2":558},
    {"p":"a","x":1175,"y1":303,"y2":553},
    {"p":"b","x":1570,"y1":38,"y2":573},
    {"p":"b","x":1195,"y1":208,"y2":483},
    {"p":"c","x":1587,"y1":35,"y2":575},
    {"p":"c","x":1216,"y1":210,"y2":565},
    {"p":"d","x":1592,"y1":50,"y2":555},
    {"p":"d","x":1192,"y1":215,"y2":570}
  ],
  "tags": [
    {"p":"a","x":3265,"y":483,"t":"3200"},
    {"p":"a","x":1632,"y":33,"t":"1640"},
    {"p":"a","x":1156,"y":571,"t":"1190"},
    {"p":"b","x":1562,"y":595,"t":"1572"},
    {"p":"b","x":1186,"y":495,"t":"1190"},
    {"p":"c","x":1555,"y":590,"t":"1572"},
    {"p":"c","x":1216,"y":582,"t":"1190"},
    {"p":"d","x":1581,"y":573,"t":"1572"},
    {"p":"d","x":1210,"y":590,"t":"1190"}
  ],
  "notes": [
    {"p":"a","x":3942,"y":618,"t":"(a)"},
    {"p":"a","x":2742,"y":595,"t":"[C4mim]CH₂-C₆H₄-HSO₃"},
    {"p":"a","x":2781,"y":521,"t":"[C4mim]CH₂-HSO₃"},
    {"p":"a","x":2820,"y":421,"t":"[C4mim]CH₂-HSO₄"},
    {"p":"a","x":2665,"y":331,"t":"[C4mim]OH"},
    {"p":"a","x":2800,"y":231,"t":"[C4mim]Ac"},
    {"p":"b","x":3919,"y":618,"t":"(b)"},
    {"p":"b","x":3834,"y":573,"t":"MWCNTs"},
    {"p":"b","x":3834,"y":473,"t":"MWCNTs-1"},
    {"p":"b","x":3853,"y":383,"t":"MWCNTs-2"},
    {"p":"b","x":3834,"y":300,"t":"MWCNTs-3"},
    {"p":"b","x":3853,"y":213,"t":"MWCNTs-4"},
    {"p":"b","x":3853,"y":123,"t":"MWCNTs-5"},
    {"p":"c","x":3931,"y":612,"t":"(c)"},
    {"p":"c","x":3816,"y":560,"t":"MWCNTs-OH"},
    {"p":"c","x":3816,"y":468,"t":"MWCNTs-OH-1"},
    {"p":"c","x":3816,"y":363,"t":"MWCNTs-OH-2"},
    {"p":"c","x":3797,"y":277,"t":"MWCNTs-OH-3"},
    {"p":"c","x":3816,"y":200,"t":"MWCNTs-OH-4"},
    {"p":"c","x":3816,"y":105,"t":"MWCNTs-OH-5"},
    {"p":"d","x":3936,"y":610,"t":"(d)"},
    {"p":"d","x":3527,"y":560,"t":"MWCNTs-COOH"},
    {"p":"d","x":3527,"y":470,"t":"MWCNTs-COOH-1"},
    {"p":"d","x":3535,"y":383,"t":"MWCNTs-COOH-2"},
    {"p":"d","x":3527,"y":283,"t":"MWCNTs-COOH-3"},
    {"p":"d","x":3508,"y":197,"t":"MWCNTs-COOH-4"},
    {"p":"d","x":3508,"y":112,"t":"MWCNTs-COOH-5"}
  ]
},
"vconcat": [
  {"hconcat": [
    {"width": 284, "height": 210,
     "encoding": {"x": {"field": "x", "type": "quantitative", "title": "wavenumber(cm⁻¹)", "scale": {"domain": [700, 4000], "reverse": true, "nice": false, "zero": false},
              "axis": {"values": [4000,3750,3500,3250,3000,2750,2500,2250,2000,1750,1500,1250,1000,750], "format": "d", "labelExpr": "datum.value % 500 === 0 ? datum.label : ''", "labelFlush": false, "labelOverlap": false, "encode": {"ticks": {"update": {"y2": {"signal": "datum.value % 500 === 0 ? -5 : -3"}}}}}}},
     "layer": [
      {"data": {"name": "a"}, "mark": {"type": "line", "strokeWidth": 0.8, "clip": true},
       "encoding": {
        "y": {"field": "y", "type": "quantitative", "scale": {"domain": [0, 630], "nice": false, "zero": false}, "axis": null},
        "color": {"field": "s", "type": "nominal", "scale": {"domain": ["[C4mim]CH2-C6H4-HSO3","[C4mim]CH2-HSO3","[C4mim]CH2-HSO4","[C4mim]OH","[C4mim]Ac"], "range": ["#333333","#ff2020","#2020ff","#ff20ff","#109010"]}, "legend": null}}},
      {"data": {"name": "rules"}, "transform": [{"filter": "datum.p === 'a'"}], "mark": {"type": "rule", "color": "#555", "strokeWidth": 1},
       "encoding": {"y": {"field": "y1", "type": "quantitative", "axis": null}, "y2": {"field": "y2"}}},
      {"data": {"name": "tags"}, "transform": [{"filter": "datum.p === 'a'"}], "mark": {"type": "text", "align": "center", "baseline": "middle"},
       "encoding": {"y": {"field": "y", "type": "quantitative", "axis": null}, "text": {"field": "t"}}},
      {"data": {"name": "notes"}, "transform": [{"filter": "datum.p === 'a'"}], "mark": {"type": "text", "align": "left", "baseline": "middle"},
       "encoding": {"y": {"field": "y", "type": "quantitative", "axis": null}, "text": {"field": "t"}}}
     ]},
    {"width": 285, "height": 210,
     "encoding": {"x": {"field": "x", "type": "quantitative", "title": "wavenumber(cm⁻¹)", "scale": {"domain": [700, 4000], "reverse": true, "nice": false, "zero": false},
              "axis": {"values": [4000,3750,3500,3250,3000,2750,2500,2250,2000,1750,1500,1250,1000,750], "format": "d", "labelExpr": "datum.value % 500 === 0 ? datum.label : ''", "labelFlush": false, "labelOverlap": false, "encode": {"ticks": {"update": {"y2": {"signal": "datum.value % 500 === 0 ? -5 : -3"}}}}}}},
     "layer": [
      {"data": {"name": "b"}, "mark": {"type": "line", "strokeWidth": 0.8, "clip": true},
       "encoding": {
        "y": {"field": "y", "type": "quantitative", "scale": {"domain": [0, 630], "nice": false, "zero": false}, "axis": null},
        "color": {"field": "s", "type": "nominal", "scale": {"domain": ["MWCNTs","MWCNTs-1","MWCNTs-2","MWCNTs-3","MWCNTs-4","MWCNTs-5"], "range": ["#333333","#ff2020","#2020ff","#ff20ff","#109010","#3535a5"]}, "legend": null}}},
      {"data": {"name": "rules"}, "transform": [{"filter": "datum.p === 'b'"}], "mark": {"type": "rule", "color": "#555", "strokeWidth": 1},
       "encoding": {"y": {"field": "y1", "type": "quantitative", "axis": null}, "y2": {"field": "y2"}}},
      {"data": {"name": "tags"}, "transform": [{"filter": "datum.p === 'b'"}], "mark": {"type": "text", "align": "center", "baseline": "middle"},
       "encoding": {"y": {"field": "y", "type": "quantitative", "axis": null}, "text": {"field": "t"}}},
      {"data": {"name": "notes"}, "transform": [{"filter": "datum.p === 'b'"}], "mark": {"type": "text", "align": "left", "baseline": "middle"},
       "encoding": {"y": {"field": "y", "type": "quantitative", "axis": null}, "text": {"field": "t"}}}
     ]}
  ], "spacing": 26},
  {"hconcat": [
    {"width": 288, "height": 215,
     "encoding": {"x": {"field": "x", "type": "quantitative", "title": "wavenumber(cm⁻¹)", "scale": {"domain": [700, 4000], "reverse": true, "nice": false, "zero": false},
              "axis": {"values": [4000,3750,3500,3250,3000,2750,2500,2250,2000,1750,1500,1250,1000,750], "format": "d", "labelExpr": "datum.value % 500 === 0 ? datum.label : ''", "labelFlush": false, "labelOverlap": false, "encode": {"ticks": {"update": {"y2": {"signal": "datum.value % 500 === 0 ? -5 : -3"}}}}}}},
     "layer": [
      {"data": {"name": "c"}, "mark": {"type": "line", "strokeWidth": 0.8, "clip": true},
       "encoding": {
        "y": {"field": "y", "type": "quantitative", "scale": {"domain": [0, 648], "nice": false, "zero": false}, "axis": null},
        "color": {"field": "s", "type": "nominal", "scale": {"domain": ["MWCNTs-OH","MWCNTs-OH-1","MWCNTs-OH-2","MWCNTs-OH-3","MWCNTs-OH-4","MWCNTs-OH-5"], "range": ["#333333","#ff2020","#2020ff","#ff20ff","#109010","#3535a5"]}, "legend": null}}},
      {"data": {"name": "rules"}, "transform": [{"filter": "datum.p === 'c'"}], "mark": {"type": "rule", "color": "#555", "strokeWidth": 1},
       "encoding": {"y": {"field": "y1", "type": "quantitative", "axis": null}, "y2": {"field": "y2"}}},
      {"data": {"name": "tags"}, "transform": [{"filter": "datum.p === 'c'"}], "mark": {"type": "text", "align": "center", "baseline": "middle"},
       "encoding": {"y": {"field": "y", "type": "quantitative", "axis": null}, "text": {"field": "t"}}},
      {"data": {"name": "notes"}, "transform": [{"filter": "datum.p === 'c'"}], "mark": {"type": "text", "align": "left", "baseline": "middle"},
       "encoding": {"y": {"field": "y", "type": "quantitative", "axis": null}, "text": {"field": "t"}}}
     ]},
    {"width": 291, "height": 215,
     "encoding": {"x": {"field": "x", "type": "quantitative", "title": "wavenumber(cm⁻¹)", "scale": {"domain": [700, 4000], "reverse": true, "nice": false, "zero": false},
              "axis": {"values": [4000,3750,3500,3250,3000,2750,2500,2250,2000,1750,1500,1250,1000,750], "format": "d", "labelExpr": "datum.value % 500 === 0 ? datum.label : ''", "labelFlush": false, "labelOverlap": false, "encode": {"ticks": {"update": {"y2": {"signal": "datum.value % 500 === 0 ? -5 : -3"}}}}}}},
     "layer": [
      {"data": {"name": "d"}, "mark": {"type": "line", "strokeWidth": 0.8, "clip": true},
       "encoding": {
        "y": {"field": "y", "type": "quantitative", "scale": {"domain": [0, 650], "nice": false, "zero": false}, "axis": null},
        "color": {"field": "s", "type": "nominal", "scale": {"domain": ["MWCNTs-COOH","MWCNTs-COOH-1","MWCNTs-COOH-2","MWCNTs-COOH-3","MWCNTs-COOH-4","MWCNTs-COOH-5"], "range": ["#333333","#ff2020","#2020ff","#ff20ff","#109010","#3535a5"]}, "legend": null}}},
      {"data": {"name": "rules"}, "transform": [{"filter": "datum.p === 'd'"}], "mark": {"type": "rule", "color": "#555", "strokeWidth": 1},
       "encoding": {"y": {"field": "y1", "type": "quantitative", "axis": null}, "y2": {"field": "y2"}}},
      {"data": {"name": "tags"}, "transform": [{"filter": "datum.p === 'd'"}], "mark": {"type": "text", "align": "center", "baseline": "middle"},
       "encoding": {"y": {"field": "y", "type": "quantitative", "axis": null}, "text": {"field": "t"}}},
      {"data": {"name": "notes"}, "transform": [{"filter": "datum.p === 'd'"}], "mark": {"type": "text", "align": "left", "baseline": "middle"},
       "encoding": {"y": {"field": "y", "type": "quantitative", "axis": null}, "text": {"field": "t"}}}
     ]}
  ], "spacing": 25}
], "spacing": 15
}
